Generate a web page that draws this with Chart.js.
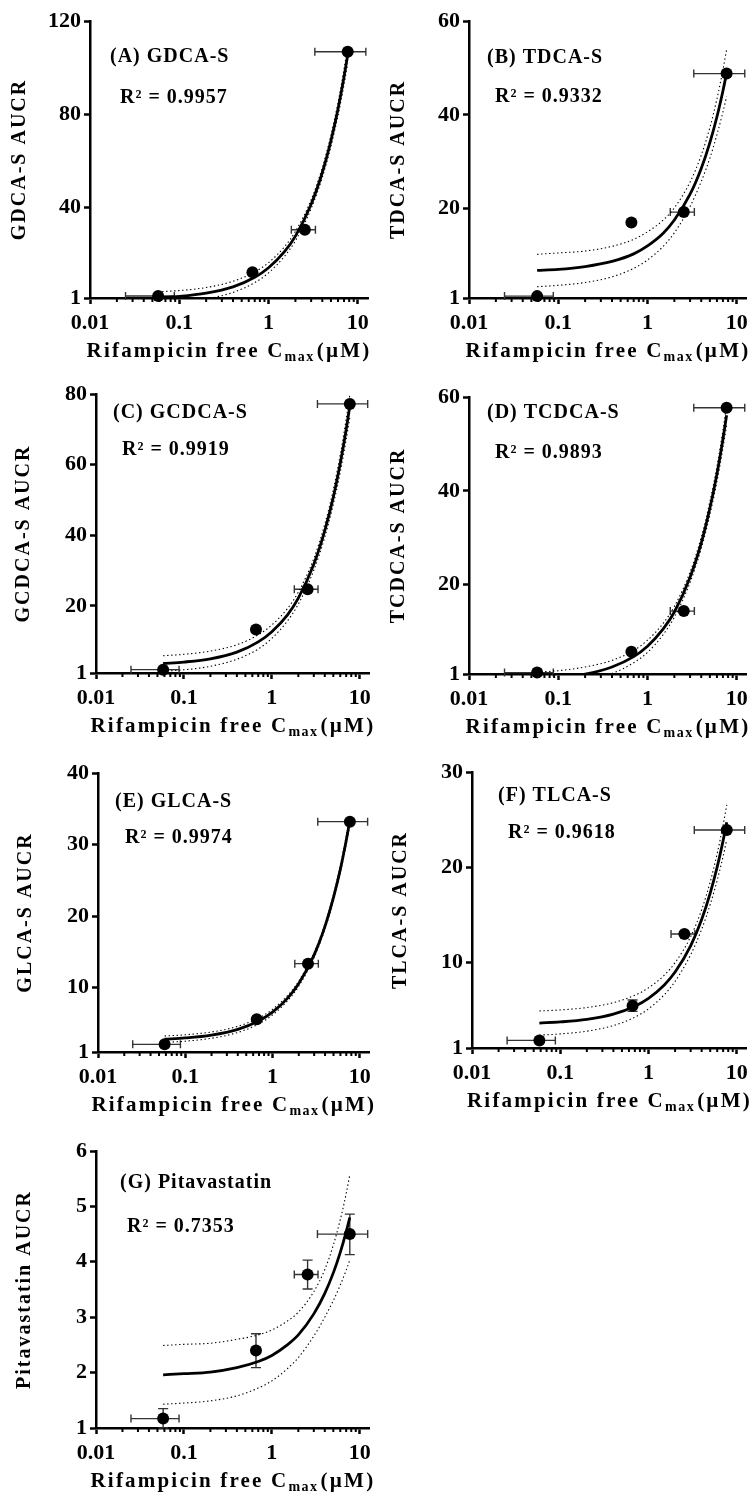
<!DOCTYPE html>
<html>
<head>
<meta charset="utf-8">
<script src="https://cdn.jsdelivr.net/npm/chart.js@4.4.1/dist/chart.umd.min.js"></script>
<style>
html,body{margin:0;padding:0;background:#fff;width:754px;height:1499px;overflow:hidden;position:relative}
canvas{position:absolute}
</style>
</head>
<body>
<script>
// ---------------- DATA ----------------
const CMAX = [0.058, 0.66, 2.55, 7.7];          // rifampicin free Cmax (uM)
const CMAX_LOW = [0.025, 0.63, 1.8, 3.3];       // x error bar low
const CMAX_HIGH = [0.088, 0.70, 3.35, 12.3];    // x error bar high
const X_TICKS = [0.01, 0.1, 1, 10];
const X_TICK_LABELS = ['0.01', '0.1', '1', '10'];
const X_MINOR_TICKS = [0.02,0.03,0.04,0.05,0.06,0.07,0.08,0.09,0.2,0.3,0.4,0.5,0.6,0.7,0.8,0.9,2,3,4,5,6,7,8,9];
const X_FIT = [0.058, 0.1, 0.2, 0.4, 0.7, 1, 1.5, 2, 3, 4, 5, 6, 7, 7.7];

const PANEL_LABELS = ['(A) GDCA-S','(B) TDCA-S','(C) GCDCA-S','(D) TCDCA-S','(E) GLCA-S','(F) TLCA-S','(G) Pitavastatin'];
const Y_TITLES = ['GDCA-S AUCR','TDCA-S AUCR','GCDCA-S AUCR','TCDCA-S AUCR','GLCA-S AUCR','TLCA-S AUCR','Pitavastatin AUCR'];
const R2_LABELS = ['R\u00B2 = 0.9957','R\u00B2 = 0.9332','R\u00B2 = 0.9919','R\u00B2 = 0.9893','R\u00B2 = 0.9974','R\u00B2 = 0.9618','R\u00B2 = 0.7353'];

const gdcaYTicks = [1, 40, 80, 120];
const gdcaAUCR  = [1.85, 12.1, 30.3, 106.8];
const gdcaFit   = [1.1, 1.7, 3.1, 5.8, 9.9, 14.0, 20.8, 27.6, 41.3, 54.9, 68.6, 82.2, 95.9, 105.4];
const gdcaUpper = [3.7, 4.2, 5.5, 8.2, 12.2, 16.2, 22.9, 29.6, 43.2, 57.0, 71.0, 85.0, 99.2, 109.1];
const gdcaLower = [-1.4, -0.8, 0.6, 3.4, 7.6, 11.8, 18.8, 25.6, 39.4, 52.8, 66.2, 79.4, 92.6, 101.7];

const tdcaYTicks = [1, 20, 40, 60];
const tdcaAUCR  = [1.4, 17.1, 19.3, 48.8];
const tdcaFit   = [6.9, 7.1, 7.7, 8.8, 10.4, 12.1, 14.8, 17.6, 23.1, 28.6, 34.1, 39.6, 45.1, 48.9];
const tdcaUpper = [10.3, 10.6, 11.0, 12.0, 13.5, 15.1, 17.6, 20.2, 25.7, 31.4, 37.3, 43.4, 49.6, 53.9];
const tdcaLower = [3.4, 3.7, 4.3, 5.5, 7.3, 9.1, 12.0, 14.9, 20.5, 25.8, 30.8, 35.8, 40.6, 43.9];

const gcdcaYTicks = [1, 20, 40, 60, 80];
const gcdcaAUCR  = [1.95, 13.3, 24.7, 77.2];
const gcdcaFit   = [3.7, 4.1, 5.0, 6.9, 9.8, 12.7, 17.4, 22.2, 31.8, 41.3, 50.8, 60.4, 69.9, 76.6];
const gcdcaUpper = [5.9, 6.3, 7.2, 9.0, 11.8, 14.6, 19.2, 23.9, 33.4, 43.1, 52.9, 62.8, 72.8, 79.8];
const gcdcaLower = [1.5, 1.9, 2.9, 4.9, 7.8, 10.8, 15.7, 20.5, 30.1, 39.5, 48.8, 57.9, 67.1, 73.4];

const tcdcaYTicks = [1, 20, 40, 60];
const tcdcaAUCR  = [1.3, 5.75, 14.4, 57.7];
const tcdcaFit   = [0.0, 0.3, 1.0, 2.5, 4.7, 6.9, 10.6, 14.2, 21.6, 28.9, 36.3, 43.6, 51.0, 56.1];
const tcdcaUpper = [1.4, 1.7, 2.5, 3.9, 6.0, 8.2, 11.8, 15.4, 22.7, 30.1, 37.7, 45.2, 52.9, 58.2];
const tcdcaLower = [-1.5, -1.2, -0.4, 1.1, 3.4, 5.6, 9.4, 13.1, 20.5, 27.7, 34.9, 42.0, 49.1, 54.0];

const glcaYTicks = [1, 10, 20, 30, 40];
const glcaAUCR  = [2.07, 5.57, 13.35, 33.2];
const glcaFit   = [2.79, 2.96, 3.36, 4.16, 5.36, 6.57, 8.57, 10.57, 14.58, 18.59, 22.6, 26.6, 30.6, 33.41];
const glcaUpper = [3.24, 3.41, 3.80, 4.59, 5.77, 6.96, 8.94, 10.92, 14.92, 18.96, 23.03, 27.10, 31.19, 34.07];
const glcaLower = [2.34, 2.51, 2.92, 3.73, 4.95, 6.18, 8.20, 10.22, 14.24, 18.22, 22.17, 26.10, 30.01, 32.75];

const tlcaYTicks = [1, 10, 20, 30];
const tlcaAUCR  = [1.8, 5.45, 12.98, 23.9];
const tlcaAUCRLow  = [null, 4.85, null, null];
const tlcaAUCRHigh = [null, 6.05, null, null];
const tlcaFit   = [3.62, 3.74, 4.01, 4.56, 5.39, 6.22, 7.60, 8.98, 11.74, 14.50, 17.27, 20.03, 22.79, 24.72];
const tlcaUpper = [4.89, 5.00, 5.25, 5.76, 6.54, 7.32, 8.63, 9.96, 12.69, 15.53, 18.46, 21.43, 24.44, 26.55];
const tlcaLower = [2.35, 2.48, 2.77, 3.36, 4.24, 5.12, 6.57, 8.00, 10.79, 13.47, 16.08, 18.63, 21.14, 22.89];

const pitaYTicks = [1, 2, 3, 4, 5, 6];
const pitaAUCR  = [1.17, 2.40, 3.77, 4.50];
const pitaAUCRLow  = [1.0, 2.09, 3.51, 4.13];
const pitaAUCRHigh = [1.35, 2.70, 4.03, 4.86];
const pitaFit   = [1.96, 1.98, 2.01, 2.09, 2.20, 2.31, 2.50, 2.68, 3.06, 3.43, 3.80, 4.17, 4.54, 4.80];
const pitaUpper = [2.49, 2.51, 2.53, 2.60, 2.68, 2.77, 2.93, 3.09, 3.46, 3.86, 4.30, 4.76, 5.23, 5.57];
const pitaLower = [1.43, 1.45, 1.49, 1.58, 1.72, 1.85, 2.07, 2.27, 2.66, 3.00, 3.30, 3.58, 3.85, 4.03];

// ---------------- LAYOUT ----------------
const FONT = '"Liberation Serif", "Times New Roman", serif';
const panels = [
  {i:0, yTicks:gdcaYTicks,  y:gdcaAUCR,  fit:gdcaFit,  up:gdcaUpper,  lo:gdcaLower,  cx:0,   cy:0,    cw:377, ch:400, L:90,  T:21,   R:368, B:298,  lab:[20,36], r2:[30,77], ytx:20},
  {i:1, yTicks:tdcaYTicks,  y:tdcaAUCR,  fit:tdcaFit,  up:tdcaUpper,  lo:tdcaLower,  cx:377, cy:0,    cw:377, ch:400, L:469, T:21,   R:747, B:298,  lab:[18,37], r2:[26,76], ytx:399},
  {i:2, yTicks:gcdcaYTicks, y:gcdcaAUCR, fit:gcdcaFit, up:gcdcaUpper, lo:gcdcaLower, cx:0,   cy:370,  cw:377, ch:400, L:96,  T:394,  R:374, B:673,  lab:[17,19], r2:[26,56], ytx:24},
  {i:3, yTicks:tcdcaYTicks, y:tcdcaAUCR, fit:tcdcaFit, up:tcdcaUpper, lo:tcdcaLower, cx:377, cy:370,  cw:377, ch:400, L:469, T:397,  R:747, B:674,  lab:[18,16], r2:[26,56], ytx:399},
  {i:4, yTicks:glcaYTicks,  y:glcaAUCR,  fit:glcaFit,  up:glcaUpper,  lo:glcaLower,  cx:0,   cy:740,  cw:377, ch:400, L:98,  T:773,  R:376, B:1052, lab:[17,29], r2:[27,65], ytx:26},
  {i:5, yTicks:tlcaYTicks,  y:tlcaAUCR,  fit:tlcaFit,  up:tlcaUpper,  lo:tlcaLower,  cx:377, cy:740,  cw:377, ch:400, L:472, T:772,  R:750, B:1048, lab:[26,24], r2:[36,61], ytx:401, yLo:tlcaAUCRLow, yHi:tlcaAUCRHigh},
  {i:6, yTicks:pitaYTicks,  y:pitaAUCR,  fit:pitaFit,  up:pitaUpper,  lo:pitaLower,  cx:0,   cy:1110, cw:377, ch:389, L:96,  T:1151, R:374, B:1428, lab:[24,32], r2:[31,76], ytx:25, yLo:pitaAUCRLow, yHi:pitaAUCRHigh}
];

const decor = {
  id: 'decor',
  beforeDatasetsDraw(chart, args, o) {
    const ctx = chart.ctx, xs = chart.scales.x, ys = chart.scales.y;
    ctx.save();
    ctx.strokeStyle = '#333';
    ctx.lineWidth = 1.4;
    for (let k = 0; k < CMAX.length; k++) {
      const py = ys.getPixelForValue(o.y[k]);
      const x1 = xs.getPixelForValue(CMAX_LOW[k]), x2 = xs.getPixelForValue(CMAX_HIGH[k]);
      ctx.beginPath();
      ctx.moveTo(x1, py); ctx.lineTo(x2, py);
      ctx.moveTo(x1, py - 4); ctx.lineTo(x1, py + 4);
      ctx.moveTo(x2, py - 4); ctx.lineTo(x2, py + 4);
      ctx.stroke();
      if (o.yLo && o.yLo[k] != null) {
        const px = xs.getPixelForValue(CMAX[k]);
        const y1 = ys.getPixelForValue(o.yLo[k]), y2 = ys.getPixelForValue(o.yHi[k]);
        ctx.beginPath();
        ctx.moveTo(px, y1); ctx.lineTo(px, y2);
        ctx.moveTo(px - 5, y1); ctx.lineTo(px + 5, y1);
        ctx.moveTo(px - 5, y2); ctx.lineTo(px + 5, y2);
        ctx.stroke();
      }
    }
    ctx.restore();
  },
  afterDraw(chart, args, o) {
    const ctx = chart.ctx, xs = chart.scales.x, a = chart.chartArea;
    ctx.save();
    // minor ticks
    ctx.strokeStyle = '#000';
    ctx.lineWidth = 2;
    for (const v of X_MINOR_TICKS) {
      const px = xs.getPixelForValue(v);
      ctx.beginPath(); ctx.moveTo(px, a.bottom); ctx.lineTo(px, a.bottom + 4); ctx.stroke();
    }
    ctx.fillStyle = '#000';
    ctx.textAlign = 'left';
    ctx.textBaseline = 'middle';
    ctx.letterSpacing = '1px';
    ctx.font = 'bold 20px ' + FONT;
    ctx.fillText(o.label, a.left + o.lab[0], a.top + o.lab[1]);
    ctx.fillText(o.r2, a.left + o.r2p[0], a.top + o.r2p[1]);
    // x title with subscript
    ctx.letterSpacing = '2.2px';
    ctx.textBaseline = 'alphabetic';
    const big = 'bold 21px ' + FONT, small = 'bold 14px ' + FONT;
    const p1 = 'Rifampicin free C', p2 = 'max', p3 = '(\u00B5M)';
    ctx.font = big; const w1 = ctx.measureText(p1).width, w3 = ctx.measureText(p3).width;
    ctx.letterSpacing = '1.5px';
    ctx.font = small; const w2 = ctx.measureText(p2).width;
    const cxm = (a.left + a.right) / 2;
    let x0 = cxm - (w1 + w2 + w3 + 2) / 2;
    const by = a.bottom + 59;
    ctx.letterSpacing = '2.2px';
    ctx.font = big; ctx.fillText(p1, x0, by);
    ctx.letterSpacing = '1.5px';
    ctx.font = small; ctx.fillText(p2, x0 + w1, by + 4);
    ctx.letterSpacing = '2.2px';
    ctx.font = big; ctx.fillText(p3, x0 + w1 + w2 + 2, by);
    // y title
    ctx.translate(o.ytx, (a.top + a.bottom) / 2);
    ctx.rotate(-Math.PI / 2);
    ctx.textAlign = 'center';
    ctx.textBaseline = 'middle';
    ctx.letterSpacing = '2px';
    ctx.font = 'bold 20px ' + FONT;
    ctx.fillText(o.ytitle, 0, 0);
    ctx.restore();
  }
};

function makePanel(p) {
  const cv = document.createElement('canvas');
  cv.width = p.cw; cv.height = p.ch;
  cv.style.left = p.cx + 'px'; cv.style.top = p.cy + 'px';
  cv.style.width = p.cw + 'px'; cv.style.height = p.ch + 'px';
  document.body.appendChild(cv);
  const yw = p.L - p.cx, top = p.T - p.cy, right = p.cx + p.cw - p.R, xh = p.cy + p.ch - p.B;
  const ymax = p.yTicks[p.yTicks.length - 1];
  new Chart(cv.getContext('2d'), {
    type: 'scatter',
    data: {
      datasets: [
        {type:'scatter', data: CMAX.map((x, k) => ({x, y: p.y[k]})), pointRadius: 6, pointHoverRadius: 6,
         backgroundColor:'#000', borderColor:'#000', borderWidth: 0, clip: false},
        {type:'line', data: X_FIT.map((x, k) => ({x, y: p.fit[k]})), borderColor:'#000', borderWidth: 2.8,
         pointRadius: 0, fill: false, cubicInterpolationMode: 'monotone'},
        {type:'line', data: X_FIT.map((x, k) => ({x, y: p.up[k]})), borderColor:'#000', borderWidth: 1.1,
         borderDash:[1.4, 2.6], pointRadius: 0, fill: false, cubicInterpolationMode: 'monotone'},
        {type:'line', data: X_FIT.map((x, k) => ({x, y: p.lo[k]})), borderColor:'#000', borderWidth: 1.1,
         borderDash:[1.4, 2.6], pointRadius: 0, fill: false, cubicInterpolationMode: 'monotone'}
      ]
    },
    options: {
      responsive: false, animation: false, devicePixelRatio: 1,
      events: [],
      layout: {padding: {left: 0, top: top, right: right, bottom: 0}},
      plugins: {
        legend: {display: false}, tooltip: {enabled: false},
        decor: {y: p.y, yLo: p.yLo, yHi: p.yHi, label: PANEL_LABELS[p.i], r2: R2_LABELS[p.i],
                ytitle: Y_TITLES[p.i], lab: p.lab, r2p: p.r2, ytx: p.ytx - p.cx}
      },
      scales: {
        x: {
          type: 'logarithmic', min: 0.01, max: 13,
          afterBuildTicks: s => { s.ticks = X_TICKS.map(v => ({value: v, major: true})); },
          afterFit: s => { s.height = xh; },
          ticks: {callback: (v, idx) => X_TICK_LABELS[idx], color:'#000', font:{family: FONT, size: 22, weight:'bold'},
                  padding: 6, maxRotation: 0, autoSkip: false},
          grid: {display: true, drawOnChartArea: false, drawTicks: true, tickLength: 6, tickWidth: 2.5, tickColor:'#000'},
          border: {display: true, color:'#000', width: 2.5}
        },
        y: {
          type: 'linear', min: 1, max: ymax,
          afterBuildTicks: s => { s.ticks = p.yTicks.map(v => ({value: v})); },
          afterFit: s => { s.width = yw; },
          ticks: {callback: v => String(v), color:'#000', font:{family: FONT, size: 22, weight:'bold'}, padding: 3, autoSkip: false},
          grid: {display: true, drawOnChartArea: false, drawTicks: true, tickLength: 6, tickWidth: 2.5, tickColor:'#000'},
          border: {display: true, color:'#000', width: 2.5}
        }
      }
    },
    plugins: [decor]
  });
}
panels.forEach(makePanel);
</script>
</body>
</html>
